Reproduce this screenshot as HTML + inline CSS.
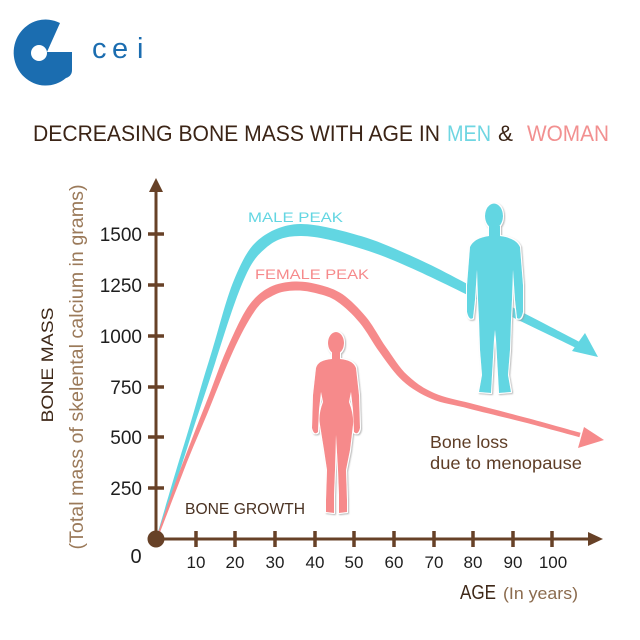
<!DOCTYPE html>
<html>
<head>
<meta charset="utf-8">
<style>
  html,body{margin:0;padding:0;background:#fff;}
  svg{display:block;}
  text{font-family:"Liberation Sans", "DejaVu Sans", sans-serif;}
</style>
</head>
<body>
<svg width="640" height="640" viewBox="0 0 640 640" xmlns="http://www.w3.org/2000/svg">
  <defs>
    <filter id="sh" x="-20%" y="-10%" width="140%" height="120%">
      <feMorphology in="SourceAlpha" operator="dilate" radius="1.2" result="d"/>
      <feFlood flood-color="#ffffff" result="w"/>
      <feComposite in="w" in2="d" operator="in" result="wo"/>
      <feOffset in="d" dx="1.2" dy="1.2" result="off"/>
      <feGaussianBlur in="off" stdDeviation="0.8" result="bl"/>
      <feFlood flood-color="#9a9a9a" flood-opacity="0.7" result="g"/>
      <feComposite in="g" in2="bl" operator="in" result="gs"/>
      <feMerge>
        <feMergeNode in="gs"/>
        <feMergeNode in="wo"/>
        <feMergeNode in="SourceGraphic"/>
      </feMerge>
    </filter>
  </defs>

  <!-- Logo -->
  <path d="M60,23 A32,33 0 1 0 66,78 Q72,76 72,70 L72,52 L47,52 Z" fill="#1b6db0"/>
  <circle cx="39" cy="53" r="8" fill="#fff"/>
  <text x="92" y="58" font-size="29" fill="#1b6db0">c</text>
  <text x="112" y="58" font-size="29" fill="#1b6db0">e</text>
  <text x="137" y="58" font-size="29" fill="#1b6db0">i</text>

  <!-- Title -->
  <text x="33" y="141" font-size="22" fill="#3b2416" textLength="407" lengthAdjust="spacingAndGlyphs">DECREASING BONE MASS WITH AGE IN</text>
  <text x="447" y="141" font-size="22" fill="#6fd6e2" textLength="44" lengthAdjust="spacingAndGlyphs">MEN</text>
  <text x="498" y="141" font-size="22" fill="#3b2416" textLength="15" lengthAdjust="spacingAndGlyphs">&amp;</text>
  <text x="527" y="141" font-size="22" fill="#f29090" textLength="82" lengthAdjust="spacingAndGlyphs">WOMAN</text>

  <!-- Male curve (filled band) -->
  <path fill="#62d6e2" d="M156.2,537.8
    C161,522.3 174.9,473.7 184.1,444.4
    C193.3,415.1 200.2,388.2 208.9,361
    C217.6,333.8 225.6,299.9 233.9,280.2
    C242.2,260.5 248.2,248.5 258.5,239.8
    C268.8,231.1 283.6,224.3 299.9,224
    C316.2,223.7 341.7,230.3 361.7,236.3
    C381.7,242.3 399,250.3 422.3,261
    C445.6,271.7 475.3,288.7 502,302
    C528.7,315.3 568.3,336.2 581.6,342.9
    L578.4,349.1
    C565.1,342.4 524.7,323.3 498,310
    C471.3,296.7 441,281.7 417.7,271
    C394.4,260.3 378.3,253.7 358.3,247.7
    C338.3,241.7 316.4,235.7 300.1,236
    C283.8,236.3 275.8,239.5 265.5,248.2
    C255.2,256.9 250.4,264.1 242.1,283.8
    C233.8,303.5 223.8,335.8 215.1,363
    C206.4,390.2 197.1,416.3 187.9,445.6
    C178.7,474.9 162.6,522.7 157.8,538.2 Z"/>
  <polygon points="585,333 598,357 572,351" fill="#62d6e2"/>

  <!-- Female curve (filled band) -->
  <path fill="#f68a8b" d="M156.2,537.7
    C160.4,526.4 171.8,491.6 180.3,469.4
    C188.8,447.2 197.6,424 205.6,404
    C213.6,384 219.7,364.8 227,348.6
    C234.3,332.4 241.7,315.5 248.7,305.7
    C255.7,295.9 262.8,290.7 270,287
    C277.2,283.3 287.1,281.8 294.8,281.5
    C302.5,281.2 311.7,282.7 319.2,284.7
    C326.7,286.7 335.1,289.1 342.6,294.3
    C350.1,299.5 359.1,308.6 366.3,317.3
    C373.5,326 379.3,337.9 386.3,347.6
    C393.3,357.3 399.2,367.6 407.5,375.3
    C415.8,383 423.5,388.4 434.3,393.1
    C445.1,397.8 455.4,399.3 470.7,403.3
    C486,407.3 507.3,412.8 525.6,417.6
    C543.9,422.4 571.4,430.3 580.6,432.8
    L579.4,437.2
    C570.2,434.7 542.7,427.2 524.4,422.4
    C506.1,417.6 484.6,412.7 469.3,408.7
    C454,404.7 442.5,403.6 431.7,398.9
    C420.9,394.2 410.8,388.4 402.5,380.7
    C394.2,373 386.7,362.1 379.7,352.4
    C372.7,342.7 366.9,331.4 359.7,322.7
    C352.5,314 344.9,306.9 337.4,301.7
    C329.9,296.5 324.3,295.4 316.8,293.4
    C309.3,291.4 302.9,290.2 295.2,290.5
    C287.5,290.8 281.3,291.3 274.1,295
    C266.9,298.7 262.3,300.5 255.3,310.3
    C248.3,320.1 240.3,335.2 233,351.4
    C225.7,367.6 218.4,386 210.4,406
    C202.4,426 192.2,448.4 183.7,470.6
    C175.2,492.8 162,527 157.8,538.3 Z"/>
  <polygon points="584,427 604,440 578,448" fill="#f68a8b"/>

  <!-- Male figure -->
  <g fill="#62d6e2" filter="url(#sh)">
    <ellipse cx="494" cy="216" rx="9" ry="12.5"/>
    <path d="M489,226 L489,236 Q474,238 470,247 L467,285 L467,312 Q469,321 473,318 L475,300 L477,270 L478,300 L479,320 L480,350 L482,375 L479,392 L491,393 L492,375 L494,340 L495,330 L496,340 L498,375 L499,393 L511,392 L508,375 L510,350 L511,320 L512,300 L513,270 L515,300 L517,318 Q521,321 523,312 L523,285 L520,247 Q516,238 500,236 L500,226 Z"/>
  </g>

  <!-- Female figure -->
  <g fill="#f68a8b" filter="url(#sh)">
    <ellipse cx="336" cy="343" rx="8" ry="11"/>
    <path d="M332,350 L332,359 Q318,360 316,368 L313,395 L312,428 Q314,436 318,432 L319,410 L321,392 L323,402 Q318,415 320,425 L324,450 L327,470 L326,500 L326,512 L334,513 L334,495 L335,470 L336,435 L338,470 L339,495 L339,513 L347,512 L347,500 L346,470 L350,450 L353,425 Q354,415 349,402 L351,392 L353,410 L354,432 Q358,436 360,428 L359,395 L356,368 Q353,360 340,359 L340,350 Z"/>
  </g>

  <!-- Axes -->
  <g stroke="#674127" fill="none">
    <line x1="156" y1="190" x2="156" y2="539" stroke-width="3"/>
    <line x1="156" y1="539" x2="590" y2="539" stroke-width="3"/>
    <g stroke-width="3.5">
      <line x1="148" y1="234" x2="164" y2="234"/>
      <line x1="148" y1="285" x2="164" y2="285"/>
      <line x1="148" y1="336" x2="164" y2="336"/>
      <line x1="148" y1="387" x2="164" y2="387"/>
      <line x1="148" y1="437" x2="164" y2="437"/>
      <line x1="148" y1="488" x2="164" y2="488"/>
    </g>
    <g stroke-width="3.5">
      <line x1="196" y1="531" x2="196" y2="547"/>
      <line x1="235" y1="531" x2="235" y2="547"/>
      <line x1="275" y1="531" x2="275" y2="547"/>
      <line x1="315" y1="531" x2="315" y2="547"/>
      <line x1="354" y1="531" x2="354" y2="547"/>
      <line x1="394" y1="531" x2="394" y2="547"/>
      <line x1="434" y1="531" x2="434" y2="547"/>
      <line x1="473" y1="531" x2="473" y2="547"/>
      <line x1="513" y1="531" x2="513" y2="547"/>
      <line x1="552" y1="531" x2="552" y2="547"/>
    </g>
  </g>
  <polygon points="156,178 149,192 163,192" fill="#674127"/>
  <polygon points="603,539 588,532 588,546" fill="#674127"/>
  <circle cx="156" cy="539" r="8.5" fill="#674127"/>

  <!-- Y tick labels -->
  <g font-size="19" fill="#1e1e1e" text-anchor="end">
    <text x="142" y="241">1500</text>
    <text x="142" y="292">1250</text>
    <text x="142" y="343">1000</text>
    <text x="142" y="394">750</text>
    <text x="142" y="444">500</text>
    <text x="142" y="495">250</text>
  </g>
  <text x="136" y="563" font-size="20" fill="#1e1e1e" text-anchor="middle">0</text>

  <!-- X tick labels -->
  <g font-size="17" fill="#1e1e1e" text-anchor="middle">
    <text x="196" y="568">10</text>
    <text x="235" y="568">20</text>
    <text x="275" y="568">30</text>
    <text x="315" y="568">40</text>
    <text x="354" y="568">50</text>
    <text x="394" y="568">60</text>
    <text x="434" y="568">70</text>
    <text x="473" y="568">80</text>
    <text x="513" y="568">90</text>
    <text x="553" y="568">100</text>
  </g>

  <!-- Axis titles -->
  <text x="460" y="599" font-size="20" fill="#3e2818" textLength="36" lengthAdjust="spacingAndGlyphs">AGE</text>
  <text x="503" y="599" font-size="17" fill="#8b6b4e" textLength="75" lengthAdjust="spacingAndGlyphs">(In years)</text>

  <text transform="translate(53,365) rotate(-90)" font-size="16.5" fill="#3e2818" text-anchor="middle" textLength="115" lengthAdjust="spacingAndGlyphs">BONE MASS</text>
  <text transform="translate(83,367) rotate(-90)" font-size="19" fill="#9b7a5a" text-anchor="middle" textLength="365" lengthAdjust="spacingAndGlyphs">(Total mass of skelental calcium in grams)</text>

  <!-- Annotations -->
  <text x="248" y="222" font-size="14" fill="#62d6e2" textLength="95" lengthAdjust="spacingAndGlyphs">MALE PEAK</text>
  <text x="255" y="279" font-size="14" fill="#f68a8b" textLength="114" lengthAdjust="spacingAndGlyphs">FEMALE PEAK</text>
  <text x="185" y="514" font-size="16" fill="#4a3222" textLength="120" lengthAdjust="spacingAndGlyphs">BONE GROWTH</text>
  <text x="430" y="448" font-size="17.5" fill="#5e3d26" textLength="78" lengthAdjust="spacingAndGlyphs">Bone loss</text>
  <text x="430" y="469" font-size="17.5" fill="#5e3d26" textLength="152" lengthAdjust="spacingAndGlyphs">due to menopause</text>
</svg>
</body>
</html>
